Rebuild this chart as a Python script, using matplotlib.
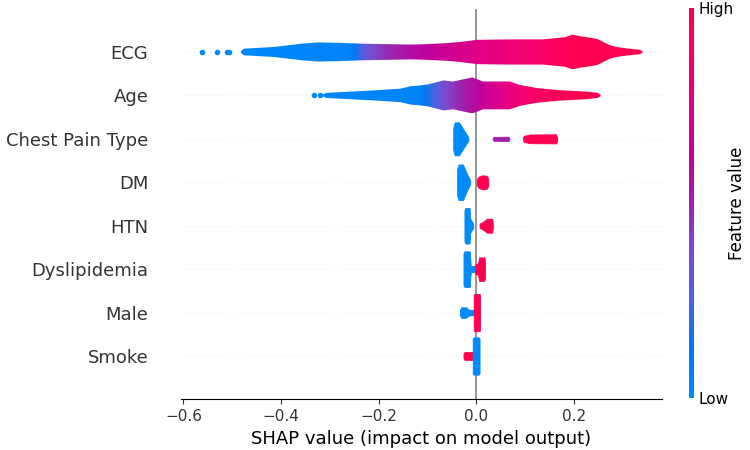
import numpy as np
import matplotlib
matplotlib.use("Agg")
import matplotlib.pyplot as plt
from matplotlib.colors import LinearSegmentedColormap
from matplotlib.patches import Polygon
from matplotlib.cm import ScalarMappable

# rows from bottom (y=0) to top (y=7)
FEATURES = ["Smoke", "Male", "Dyslipidemia", "HTN", "DM", "Chest Pain Type", "Age", "ECG"]

# ECG swarm outline: shap value -> half height (row units), and feature-value colour along x
ECG_X = [-0.482, -0.476, -0.415, -0.380, -0.359, -0.324, -0.278, -0.231, -0.176, -0.135,
         -0.114, -0.065, -0.033, 0.002, 0.069, 0.137, 0.182, 0.198, 0.214, 0.233,
         0.248, 0.273, 0.288, 0.310, 0.335, 0.341]
ECG_H = [0.02, 0.076, 0.115, 0.16, 0.19, 0.22, 0.21, 0.19, 0.18, 0.17,
         0.175, 0.20, 0.23, 0.28, 0.29, 0.29, 0.34, 0.40, 0.36, 0.33,
         0.30, 0.16, 0.115, 0.08, 0.053, 0.02]
ECG_COLOR_X = [-0.48, -0.26, -0.23, -0.175, -0.114, 0.0, 0.137, 0.2, 0.34]
ECG_COLOR_V = [0.02, 0.05, 0.3, 0.5, 0.6, 0.75, 0.9, 1.0, 1.0]
ECG_OUTLIERS = [-0.561, -0.531, -0.510, -0.506]

AGE_X = [-0.314, -0.308, -0.278, -0.210, -0.155, -0.135, -0.114, -0.100, -0.067, -0.047,
         -0.008, 0.014, 0.069, 0.090, 0.124, 0.171, 0.226, 0.249, 0.255]
AGE_H = [0.02, 0.058, 0.076, 0.115, 0.155, 0.21, 0.23, 0.25, 0.345, 0.32,
         0.415, 0.32, 0.32, 0.24, 0.17, 0.12, 0.088, 0.058, 0.02]
AGE_COLOR_X = [-0.33, -0.12, -0.067, -0.033, 0.002, 0.069, 0.137, 0.2, 0.26]
AGE_COLOR_V = [0.02, 0.05, 0.35, 0.5, 0.6, 0.8, 0.93, 1.0, 1.0]
AGE_OUTLIERS = [-0.333, -0.320]

# binary-ish features: (shap values, half heights, feature value)
CHEST_PAIN = [
    ([-0.047, -0.044, -0.035, -0.025, -0.016], [0.25, 0.38, 0.38, 0.20, 0.04], 0.0),
    ([0.034, 0.036, 0.066, 0.068], [0.02, 0.045, 0.05, 0.02], 0.52),
    ([0.096, 0.098, 0.110, 0.164, 0.166], [0.03, 0.07, 0.10, 0.105, 0.03], 1.0),
]
DM = [
    ([-0.039, -0.036, -0.027, -0.019, -0.012], [0.30, 0.41, 0.41, 0.20, 0.04], 0.0),
    ([0.001, 0.005, 0.012, 0.022, 0.025], [0.06, 0.13, 0.16, 0.15, 0.07], 1.0),
]
HTN = [
    ([-0.024, -0.022, -0.0135, -0.012, -0.006], [0.36, 0.41, 0.41, 0.16, 0.05], 0.0),
    ([0.007, 0.014, 0.022, 0.033, 0.034], [0.05, 0.09, 0.16, 0.16, 0.05], 1.0),
]
DYSLIPIDEMIA = [
    ([-0.026, -0.024, -0.013, -0.011, -0.002], [0.36, 0.41, 0.41, 0.07, 0.07], 0.0),
    ([-0.002, 0.004, 0.006, 0.017, 0.018], [0.10, 0.14, 0.27, 0.27, 0.20], 1.0),
]
MALE = [
    ([-0.033, -0.031, -0.020, -0.016, -0.005], [0.06, 0.12, 0.12, 0.07, 0.06], 0.0),
    ([-0.005, -0.004, 0.007, 0.008], [0.40, 0.43, 0.43, 0.40], 1.0),
]
SMOKE = [
    ([-0.026, -0.024, -0.007], [0.05, 0.09, 0.09], 1.0),
    ([-0.007, -0.005, 0.005, 0.007], [0.40, 0.43, 0.43, 0.40], 0.0),
]

# shap red_blue colormap, sampled
CMAP = LinearSegmentedColormap.from_list("red_blue", [
    (0.000, (0.00, 0.543, 0.983)),
    (0.125, (0.00, 0.47, 0.95)),
    (0.250, (0.30, 0.39, 0.89)),
    (0.375, (0.49, 0.29, 0.80)),
    (0.500, (0.61, 0.14, 0.68)),
    (0.625, (0.76, 0.00, 0.61)),
    (0.750, (0.88, 0.00, 0.53)),
    (0.875, (0.96, 0.00, 0.43)),
    (1.000, (1.00, 0.00, 0.318)),
])


def gradient_swarm(ax, y, xs, hs, cx, cv):
    xs = np.asarray(xs)
    hs = np.asarray(hs)
    verts = np.column_stack([np.r_[xs, xs[::-1]], np.r_[y + hs, (y - hs)[::-1]]])
    patch = Polygon(verts, closed=True, facecolor='none', edgecolor='none')
    ax.add_patch(patch)
    grid = np.linspace(xs[0], xs[-1], 500)
    img = np.interp(grid, cx, cv)[None, :]
    im = ax.imshow(img, extent=[xs[0], xs[-1], y - hs.max(), y + hs.max()],
                   aspect='auto', cmap=CMAP, vmin=0, vmax=1,
                   interpolation='bilinear', origin='lower', zorder=2)
    im.set_clip_path(patch)


def block_swarm(ax, y, blocks):
    for xs, hs, val in blocks:
        hs = np.asarray(hs)
        ax.fill_between(xs, y - hs, y + hs, color=CMAP(val), lw=0.6,
                        edgecolor=CMAP(val), zorder=2)


fig = plt.figure(figsize=(7.5, 4.5), dpi=100)
ax = fig.add_axes([0.2413, 0.1124, 0.6414, 0.8686])

for i in range(len(FEATURES)):
    ax.axhline(i, color="#cccccc", lw=0.5, dashes=(1, 5), zorder=-1)
ax.axvline(0, color="#999999", zorder=-1)

gradient_swarm(ax, 7, ECG_X, ECG_H, ECG_COLOR_X, ECG_COLOR_V)
ax.scatter(ECG_OUTLIERS, [7] * len(ECG_OUTLIERS), s=16, color=CMAP(0.02), lw=0, zorder=2)
gradient_swarm(ax, 6, AGE_X, AGE_H, AGE_COLOR_X, AGE_COLOR_V)
ax.scatter(AGE_OUTLIERS, [6] * len(AGE_OUTLIERS), s=16, color=CMAP(0.02), lw=0, zorder=2)

block_swarm(ax, 5, CHEST_PAIN)
block_swarm(ax, 4, DM)
block_swarm(ax, 3, HTN)
block_swarm(ax, 2, DYSLIPIDEMIA)
block_swarm(ax, 1, MALE)
block_swarm(ax, 0, SMOKE)

ax.set_xlim(-0.605, 0.381)
ax.set_ylim(-1, len(FEATURES))
ax.set_yticks(range(len(FEATURES)))
ax.set_yticklabels(FEATURES, fontsize=13)
ax.tick_params('y', length=20, width=0.5, color=(0, 0, 0, 0), labelcolor='#333333')
ax.tick_params('x', labelsize=11, color='#333333', labelcolor='#333333')
ax.set_xlabel("SHAP value (impact on model output)", fontsize=13)
for side in ('top', 'right', 'left'):
    ax.spines[side].set_visible(False)

cax = fig.add_axes([0.918, 0.1156, 0.0067, 0.867])
cb = fig.colorbar(ScalarMappable(cmap=CMAP), cax=cax, ticks=[0, 1])
cb.set_ticklabels(["Low", "High"])
cb.set_label("Feature value", size=12, labelpad=-4)
cb.ax.tick_params(labelsize=11, length=0)
cb.outline.set_visible(False)

fig.savefig("out.png", dpi=100)
